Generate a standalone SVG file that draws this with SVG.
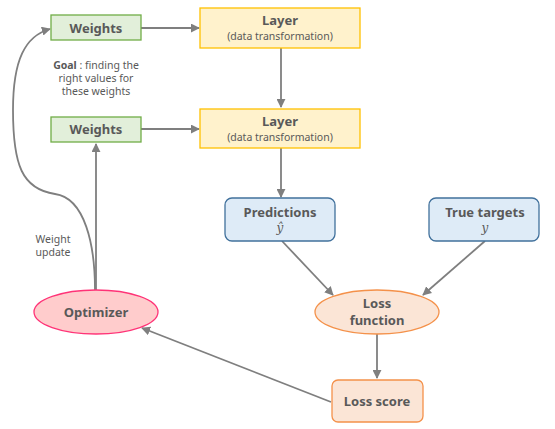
<svg xmlns="http://www.w3.org/2000/svg" width="555" height="429" viewBox="0 0 555 429">
<style>
text{font-family:"Noto Sans","Open Sans","Liberation Sans",sans-serif;fill:#595959;text-anchor:middle}
.b{font-weight:bold;font-size:13px}
.s{font-size:10.5px}
.n{font-size:10.5px}
.g{fill:#e2efda;stroke:#70ad47;stroke-width:1.3}
.y{fill:#fff2cc;stroke:#ffc000;stroke-width:1.3}
.bl{fill:#deebf7;stroke:#41719c;stroke-width:1.3}
.o{fill:#fbe5d6;stroke:#f4914a;stroke-width:1.3}
.p{fill:#ffcccc;stroke:#ff3377;stroke-width:1.3}
.c{fill:none;stroke:#7f7f7f;stroke-width:1.8}
.m{font-family:"DejaVu Serif","Liberation Serif",serif;font-style:italic;font-size:12px}
</style>
<defs>
<marker id="a" viewBox="0 0 10 10" refX="9" refY="5" markerWidth="5" markerHeight="5" orient="auto" markerUnits="strokeWidth">
<path d="M0 0L10 5L0 10z" fill="#7f7f7f"/>
</marker>
</defs>
<g id="connectors">
<path class="c" d="M141 28H199" marker-end="url(#a)"/>
<path class="c" d="M281 48V107" marker-end="url(#a)"/>
<path class="c" d="M141 129H199" marker-end="url(#a)"/>
<path class="c" d="M281 148V197" marker-end="url(#a)"/>
<path class="c" d="M282 241L333 295" marker-end="url(#a)"/>
<path class="c" d="M485 241L423 295" marker-end="url(#a)"/>
<path class="c" d="M377 334V378" marker-end="url(#a)"/>
<path class="c" d="M331 402L142 328" marker-end="url(#a)"/>
<path class="c" d="M96 290V144" marker-end="url(#a)"/>
<path class="c" d="M95 290C95 245 85 198 55 194C22 189 13 165 13 110C13 60 25 36 50 29" marker-end="url(#a)"/>
</g>
<g id="weights1">
<rect class="g" x="51" y="15" width="90" height="25"/>
<text class="b" x="96" y="32.5">Weights</text>
</g>
<g id="layer1">
<rect class="y" x="200" y="8" width="160" height="40"/>
<text class="b" x="280" y="25">Layer</text>
<text class="s" x="280" y="40">(data transformation)</text>
</g>
<g id="goal">
<text class="n" x="96" y="69"><tspan font-weight="bold">Goal</tspan> : finding the</text>
<text class="n" x="96" y="82">right values for</text>
<text class="n" x="96" y="95">these weights</text>
</g>
<g id="weights2">
<rect class="g" x="51" y="117" width="90" height="25"/>
<text class="b" x="96" y="134">Weights</text>
</g>
<g id="layer2">
<rect class="y" x="200" y="109" width="160" height="39"/>
<text class="b" x="280" y="126">Layer</text>
<text class="s" x="280" y="141">(data transformation)</text>
</g>
<g id="predictions">
<rect class="bl" x="225" y="198" width="110" height="43" rx="7"/>
<text class="b" x="280" y="217">Predictions</text>
<text class="m" x="280" y="232">ŷ</text>
</g>
<g id="truetargets">
<rect class="bl" x="429" y="198" width="110" height="43" rx="7"/>
<text class="b" x="485" y="217">True targets</text>
<text class="m" x="485" y="232">y</text>
</g>
<g id="lossfunction">
<ellipse class="o" cx="377" cy="312" rx="62" ry="22"/>
<text class="b" x="377" y="308">Loss</text>
<text class="b" x="377" y="325">function</text>
</g>
<g id="weightupdate">
<text class="n" x="53" y="243">Weight</text>
<text class="n" x="53" y="256">update</text>
</g>
<g id="optimizer">
<ellipse class="p" cx="96" cy="312" rx="62" ry="22"/>
<text class="b" x="96" y="317">Optimizer</text>
</g>
<g id="lossscore">
<rect class="o" x="332" y="380" width="91" height="42" rx="6"/>
<text class="b" x="377" y="406">Loss score</text>
</g>
</svg>
